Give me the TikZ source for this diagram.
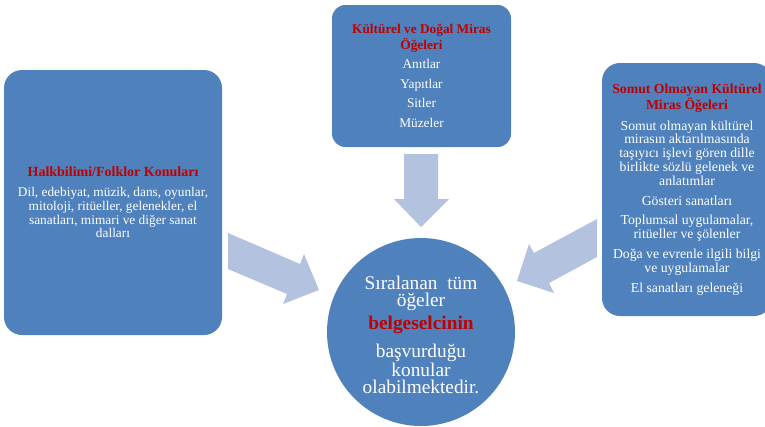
\documentclass[tikz,border=0pt]{standalone}
\usepackage{fontspec}
\setmainfont{Liberation Serif}
\definecolor{boxblue}{HTML}{4F81BD}
\definecolor{arrowblue}{HTML}{B3C2DE}
\definecolor{titlered}{HTML}{C00000}
\newcommand{\ttl}[1]{\textbf{\textcolor{titlered}{#1}}}
\begin{document}
\begin{tikzpicture}[x=0.75pt,y=-0.75pt,
  panel/.style={fill=boxblue, draw=none, rounded corners=13.5pt, inner sep=0pt,
    text=white, align=center},
  blockarrow/.style={fill=arrowblue, draw=none}]
\useasboundingbox (0,0) rectangle (765,426);

% block arrows
\fill[blockarrow] (404,154) -- (438,154) -- (438,199) -- (449,199) -- (421,227)
  -- (394,199) -- (404,199) -- cycle;
\fill[blockarrow] (228,233) -- (300,264) -- (304,254) -- (319,290) -- (283,304)
  -- (287,294) -- (228,269) -- cycle;
\fill[blockarrow] (597,219) -- (534,253) -- (529,244) -- (517,281) -- (554,293)
  -- (549,283) -- (597,257) -- cycle;

% left panel
\node[panel, minimum width=163.5pt, minimum height=198.75pt,
  font=\fontsize{10}{10.3}\selectfont] (folk) at (113,202.5)
  {\fontsize{10.5}{10.3}\selectfont\ttl{Halkbilimi/Folklor Konuları}\\[4.8pt]
   Dil, edebiyat, müzik, dans, oyunlar,\\
   mitoloji, ritüeller, gelenekler, el\\
   sanatları, mimari ve diğer sanat\\
   dalları};

% top panel
\node[panel, minimum width=134.25pt, minimum height=106.5pt, rounded corners=10pt,
  font=\fontsize{10}{9.8}\selectfont] (dogal) at (421.5,76)
  {\ttl{Kültürel ve Doğal Miras}\\
   \ttl{Öğeleri}\\[5pt]
   Anıtlar\\[4.8pt]
   Yapıtlar\\[4.8pt]
   Sitler\\[4.8pt]
   Müzeler};

% right panel
\node[panel, minimum width=127.5pt, minimum height=189.75pt,
  font=\fontsize{10.3}{10.35}\selectfont] (somut) at (687,189.5)
  {\ttl{Somut Olmayan Kültürel}\\
   \ttl{Miras Öğeleri}\\[5.3pt]
   Somut olmayan kültürel\\
   mirasın aktarılmasında\\
   taşıyıcı işlevi gören dille\\
   birlikte sözlü gelenek ve\\
   anlatımlar\\[4.5pt]
   Gösteri sanatları\\[4.5pt]
   Toplumsal uygulamalar,\\
   ritüeller ve şölenler\\[4.5pt]
   Doğa ve evrenle ilgili bilgi\\
   ve uygulamalar\\[4.5pt]
   El sanatları geleneği};

% centre circle
\node[circle, fill=boxblue, draw=none, inner sep=0pt, minimum size=141pt,
  text=white, align=center, font=\fontsize{14.5}{13.1}\selectfont] (ozet) at (421,332)
  {};
\node[text=white, align=center, font=\fontsize{14.5}{13.1}\selectfont, inner sep=0pt]
  (ozettext) at (421,335)
  {Sıralanan\ \ tüm\\
   öğeler\\[2.6pt]
   \ttl{belgeselcinin}\\[7pt]
   başvurduğu\\
   konular\\
   olabilmektedir.};
\end{tikzpicture}
\end{document}
